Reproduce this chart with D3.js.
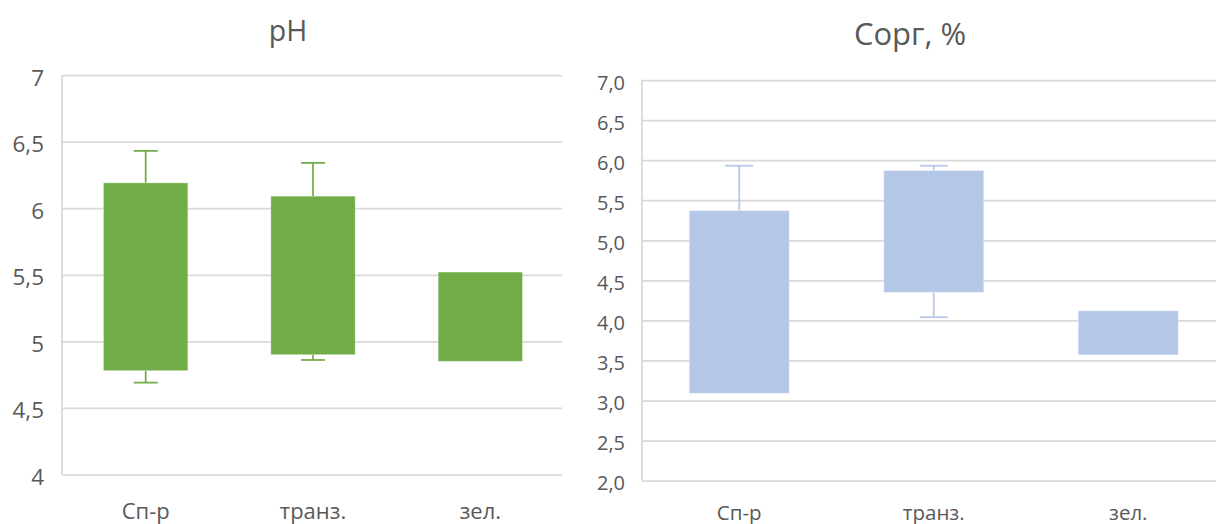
<!DOCTYPE html>
<html>
<head>
<meta charset="utf-8">
<script src="https://cdn.jsdelivr.net/npm/d3@7"></script>
<style>
  html, body { margin: 0; padding: 0; background: #fff; }
  svg { display: block; }
  text { font-family: "Open Sans", "Noto Sans", sans-serif; fill: #595959; }
</style>
</head>
<body>
<svg id="chart" width="1216" height="524"></svg>
<script>
// ---- data ----
const categories = ["Сп-р", "транз.", "зел."];

const phTitle = "pH";
const phTicks = [4, 4.5, 5, 5.5, 6, 6.5, 7];
const phTickLabels = ["4", "4,5", "5", "5,5", "6", "6,5", "7"];
const phBoxLow = [4.78, 4.90, 4.85];
const phBoxHigh = [6.19, 6.09, 5.52];
const phWhiskerLow = [4.69, 4.86, null];
const phWhiskerHigh = [6.43, 6.34, null];

const corgTitle = "Сорг, %";
const corgTicks = [2, 2.5, 3, 3.5, 4, 4.5, 5, 5.5, 6, 6.5, 7];
const corgTickLabels = ["2,0", "2,5", "3,0", "3,5", "4,0", "4,5", "5,0", "5,5", "6,0", "6,5", "7,0"];
const corgBoxLow = [3.09, 4.35, 3.57];
const corgBoxHigh = [5.37, 5.87, 4.12];
const corgWhiskerLow = [null, 4.04, null];
const corgWhiskerHigh = [5.93, 5.93, null];

const svg = d3.select("#chart");

function drawChart(cfg) {
  const g = svg.append("g");
  const x = d3.scaleBand().domain(categories)
    .range([cfg.left, cfg.right])
    .paddingInner(cfg.pad).paddingOuter(cfg.pad / 2);
  const y = d3.scaleLinear().domain([cfg.ticks[0], cfg.ticks[cfg.ticks.length - 1]])
    .range([cfg.bottom, cfg.top]);

  // gridlines + tick labels via axis
  const axis = d3.axisLeft(y)
    .tickValues(cfg.ticks)
    .tickFormat((d, i) => cfg.tickLabels[i])
    .tickSizeInner(-(cfg.gridRight - cfg.left))
    .tickSizeOuter(0)
    .tickPadding(cfg.tickPad);
  const ax = g.append("g").attr("transform", `translate(${cfg.left},0)`).call(axis);
  ax.select(".domain").remove();
  ax.selectAll(".tick line").attr("stroke", "#d9d9d9").attr("stroke-width", 1.75);
  ax.selectAll(".tick text")
    .attr("fill", "#595959")
    .style("font-size", cfg.tickFont + "px")
    .attr("font-family", null)
    .attr("dy", null)
    .attr("y", cfg.tickDy);

  // vertical axis line
  g.append("line")
    .attr("x1", cfg.left).attr("x2", cfg.left)
    .attr("y1", y.range()[1]).attr("y2", y.range()[0])
    .attr("stroke", "#d9d9d9").attr("stroke-width", 1.75);

  // boxes
  const rows = categories.map((c, i) => ({
    c, lo: cfg.boxLow[i], hi: cfg.boxHigh[i], wlo: cfg.wLow[i], whi: cfg.wHigh[i]
  }));

  rows.forEach(r => {
    const cx = x(r.c) + x.bandwidth() / 2;
    if (r.whi != null) {
      g.append("line").attr("x1", cx).attr("x2", cx)
        .attr("y1", y(r.hi)).attr("y2", y(r.whi))
        .attr("stroke", cfg.color).attr("stroke-width", 1.75);
      g.append("line").attr("x1", cx - cfg.cap / 2).attr("x2", cx + cfg.cap / 2)
        .attr("y1", y(r.whi)).attr("y2", y(r.whi))
        .attr("stroke", cfg.color).attr("stroke-width", 1.75);
    }
    if (r.wlo != null) {
      g.append("line").attr("x1", cx).attr("x2", cx)
        .attr("y1", y(r.lo)).attr("y2", y(r.wlo))
        .attr("stroke", cfg.color).attr("stroke-width", 1.75);
      g.append("line").attr("x1", cx - cfg.cap / 2).attr("x2", cx + cfg.cap / 2)
        .attr("y1", y(r.wlo)).attr("y2", y(r.wlo))
        .attr("stroke", cfg.color).attr("stroke-width", 1.75);
    }
    g.append("rect")
      .attr("x", x(r.c)).attr("width", x.bandwidth())
      .attr("y", y(r.hi)).attr("height", y(r.lo) - y(r.hi))
      .attr("fill", cfg.color)
      .attr("stroke", "rgba(255,255,255,0.3)").attr("stroke-width", 1);
  });

  // category labels
  g.selectAll("text.cat").data(categories).enter().append("text")
    .attr("class", "cat")
    .attr("x", d => x(d) + x.bandwidth() / 2)
    .attr("y", cfg.catY)
    .attr("text-anchor", "middle")
    .style("font-size", cfg.catFont + "px")
    .text(d => d);

  // title
  g.append("text")
    .attr("x", cfg.titleX).attr("y", cfg.titleY)
    .attr("text-anchor", "middle")
    .style("font-size", cfg.titleFont + "px")
    .text(cfg.title);
}

drawChart({
  title: phTitle, ticks: phTicks, tickLabels: phTickLabels,
  boxLow: phBoxLow, boxHigh: phBoxHigh, wLow: phWhiskerLow, wHigh: phWhiskerHigh,
  left: 62, right: 564, gridRight: 562, top: 75, bottom: 474.5,
  pad: 0.496, color: "#70AD47", cap: 24,
  tickFont: 22.5, tickPad: 18, tickDy: 10,
  catFont: 22, catY: 518.5,
  titleX: 288, titleY: 41, titleFont: 28.5
});

drawChart({
  title: corgTitle, ticks: corgTicks, tickLabels: corgTickLabels,
  boxLow: corgBoxLow, boxHigh: corgBoxHigh, wLow: corgWhiskerLow, wHigh: corgWhiskerHigh,
  left: 642, right: 1225.5, gridRight: 1230, top: 80, bottom: 480.7,
  pad: 0.486, color: "#B4C7E7", cap: 28,
  tickFont: 20, tickPad: 17, tickDy: 9,
  catFont: 20.5, catY: 519.5,
  titleX: 910, titleY: 44.5, titleFont: 31
});
</script>
</body>
</html>
